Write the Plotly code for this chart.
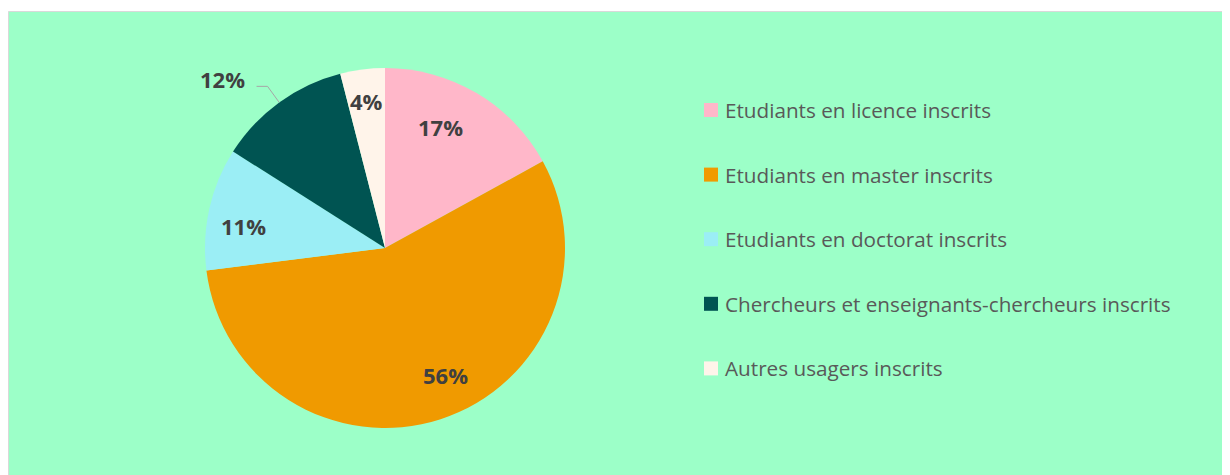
import math
import plotly.graph_objects as go

categories = [
    "Etudiants en licence inscrits",
    "Etudiants en master inscrits",
    "Etudiants en doctorat inscrits",
    "Chercheurs et enseignants-chercheurs inscrits",
    "Autres usagers inscrits",
]
values = [17, 56, 11, 12, 4]
colors = ["#FFB7C9", "#F09A00", "#9BEEF5", "#005452", "#FFF4EA"]
label_outside = [False, False, False, True, False]
# small label nudges (pixels), styling only
label_nudge = [(-16, 0), (17, -7), (-4, 9), (-5, 2), (-1, -8)]

W, H = 1230, 475
OFF = 8  # page body margin offset
BG = "#9CFFC8"
FONT = "Open Sans"
cx, cy, R = 385 - OFF, 248 - OFF, 180  # pixel geometry of pie (figure coords)

fig = go.Figure()
fig.add_trace(go.Pie(
    labels=categories, values=values, sort=False, direction="clockwise",
    rotation=0, marker=dict(colors=colors, line=dict(width=0)),
    textinfo="none", hoverinfo="label+percent", showlegend=False,
    domain=dict(x=[(cx - R) / W, (cx + R) / W], y=[(H - cy - R) / H, (H - cy + R) / H]),
))

def px(x, y):
    return x / W, 1 - y / H

shapes = [dict(type="rect", xref="paper", yref="paper", x0=0.5 / W, x1=1.02,
               y0=-0.02, y1=1 - 3.5 / H, fillcolor=BG, line=dict(color="#D9D9D9", width=1),
               layer="below")]
annotations = []
total = sum(values)
cum = 0
for v, out, (ndx, ndy) in zip(values, label_outside, label_nudge):
    mid = (cum + v / 2) / total * 2 * math.pi
    cum += v
    pct = f"{round(v / total * 100)}%"
    sx, sy = math.sin(mid), -math.cos(mid)
    if not out:
        r = 0.78 * R
        x, y = px(cx + r * sx + ndx, cy + r * sy + ndy)
        annotations.append(dict(x=x, y=y, xref="paper", yref="paper", text=f"<b>{pct}</b>",
                                xanchor="center", yanchor="middle", showarrow=False,
                                font=dict(size=22, color="#404040", family=FONT)))
    else:
        ex, ey = cx + R * sx, cy + R * sy
        bx, by = cx + 1.11 * R * sx, cy + 1.11 * R * sy
        lx = bx - 11
        x0, y0 = px(ex, ey); x1, y1 = px(bx, by); x2, y2 = px(lx, by)
        shapes.append(dict(type="path", xref="paper", yref="paper",
                           path=f"M {x0} {y0} L {x1} {y1} L {x2} {y2}",
                           line=dict(color="#A6A6A6", width=1)))
        tx, ty = px(lx - 5 + ndx, by - 9 + ndy)
        annotations.append(dict(x=tx, y=ty, xref="paper", yref="paper", text=f"<b>{pct}</b>",
                                xanchor="right", yanchor="middle", showarrow=False,
                                font=dict(size=22, color="#404040", family=FONT)))

# legend
leg_x, leg_y0, leg_dy = 704 - OFF, 110 - OFF, 64.6
for i, (cat, col) in enumerate(zip(categories, colors)):
    yc = leg_y0 + i * leg_dy
    a0, b0 = px(leg_x, yc - 7); a1, b1 = px(leg_x + 14, yc + 7)
    shapes.append(dict(type="rect", xref="paper", yref="paper", x0=a0, x1=a1, y0=b1, y1=b0,
                       fillcolor=col, line=dict(width=0)))
    tx, ty = px(leg_x + 19, yc)
    annotations.append(dict(x=tx, y=ty, xref="paper", yref="paper", text=cat, xanchor="left",
                            yanchor="middle", showarrow=False,
                            font=dict(size=20.7, color="#595959", family=FONT)))

fig.update_layout(
    width=W, height=H, margin=dict(l=0, r=0, t=0, b=0),
    paper_bgcolor="white", plot_bgcolor="white",
    shapes=shapes, annotations=annotations,
)
fig.write_html("out.html")
